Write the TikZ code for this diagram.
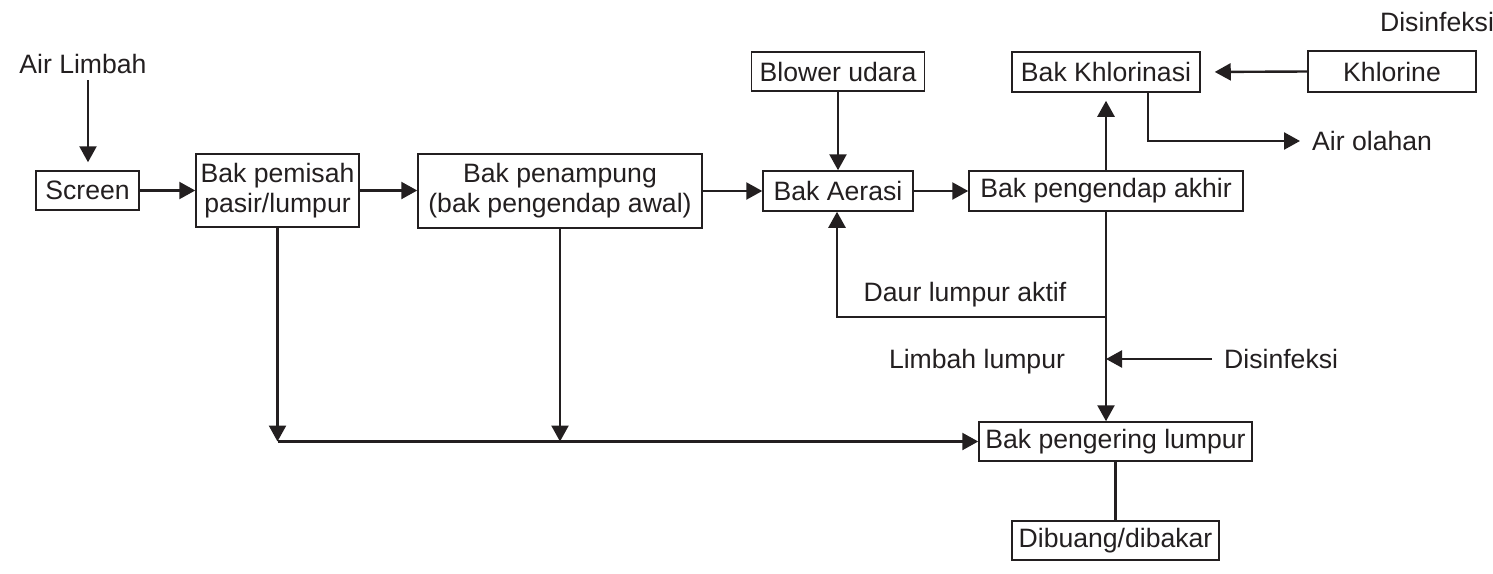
\documentclass[tikz,border=0pt]{standalone}
\usepackage{fontspec}
\setmainfont{Liberation Sans}
\usetikzlibrary{arrows.meta}
\definecolor{ink}{HTML}{231F20}
\begin{document}
\begin{tikzpicture}[x=1pt,y=-1pt,
  font=\fontsize{26.6}{30}\selectfont,
  box/.style={draw=ink,line width=1.5pt,text=ink,inner sep=0pt,align=center},
  label/.style={text=ink,inner sep=0pt},
  arr/.style={draw=ink,line width=2.4pt,-{Triangle[length=16pt,width=17pt]}},
  plain/.style={draw=ink,line width=2.4pt}]
\useasboundingbox (0,0) rectangle (1493,573);

% process boxes
\node[box,minimum width=103pt,minimum height=39pt] (screen) at (87.5,190.5) {Screen};
\node[box,minimum width=163pt,minimum height=73pt] (pemisah) at (277.5,190.5) {Bak pemisah\\pasir/lumpur};
\node[box,minimum width=284pt,minimum height=74pt] (penampung) at (560,191) {Bak penampung\\(bak pengendap awal)};
\node[box,minimum width=150pt,minimum height=40pt] (aerasi) at (838,191) {Bak Aerasi};
\node[box,minimum width=173pt,minimum height=39pt] (blower) at (838,71.5) {Blower udara};
\node[box,minimum width=274pt,minimum height=40pt] (akhir) at (1106,191) {Bak pengendap akhir};
\node[box,minimum width=188pt,minimum height=40pt] (khlor) at (1106,72) {Bak Khlorinasi};
\node[box,minimum width=168pt,minimum height=41pt] (khlorine) at (1392,71.5) {Khlorine};
\node[box,minimum width=273pt,minimum height=39pt] (pengering) at (1115.5,441.5) {Bak pengering lumpur};
\node[box,minimum width=207pt,minimum height=39pt] (dibuang) at (1115.5,540.5) {Dibuang/dibakar};

% free labels
\node[label] (airlimbah) at (83,64) {Air Limbah};
\node[label] (disinfA) at (1437,22) {Disinfeksi};
\node[label,anchor=west] (olahan) at (1312,141) {Air olahan};
\node[label] (daur) at (965,295) {Daur lumpur aktif};
\node[label] (limbah) at (977,362) {Limbah lumpur};
\node[label,anchor=west] (disinfB) at (1224,359) {Disinfeksi};

% helper points
\coordinate (inlet) at (88,80);
\coordinate (ret) at (1106,317);
\coordinate (sludge) at (278,441.5);

% main line
\draw[arr,shorten >=8pt] (inlet) -- (inlet |- screen.north);
\draw[arr] (screen.east) -- (pemisah.west |- screen.east);
\draw[arr] (pemisah.east) -- (penampung.west |- pemisah.east);
\draw[arr] (penampung.east) -- (aerasi.west |- penampung.east);
\draw[arr] (aerasi.east) -- (akhir.west);
\draw[arr] (blower.south) -- (aerasi.north);

% chlorination
\draw[arr,shorten >=8pt] (akhir.north) -- (khlor.south);
\draw[arr,shorten >=14pt] (khlorine.west) -- (khlor.east);
\draw[arr,shorten >=12pt] ([xshift=42pt]khlor.south) |- (olahan.west);

% return sludge and waste sludge
\draw[arr] (ret) -| ([xshift=-1pt]aerasi.south);
\draw[arr] (akhir.south) -- (akhir.south |- pengering.north);
\draw[arr,shorten <=12pt] (disinfB.west) -- (disinfB.west -| akhir.south);

% sludge collection
\draw[arr] (pemisah.south) -- (pemisah.south |- sludge);
\draw[arr] (penampung.south) -- (penampung.south |- sludge);
\draw[arr] (sludge) -- (pengering.west);
\draw[plain] (pengering.south) -- (dibuang.north);
\end{tikzpicture}
\end{document}
